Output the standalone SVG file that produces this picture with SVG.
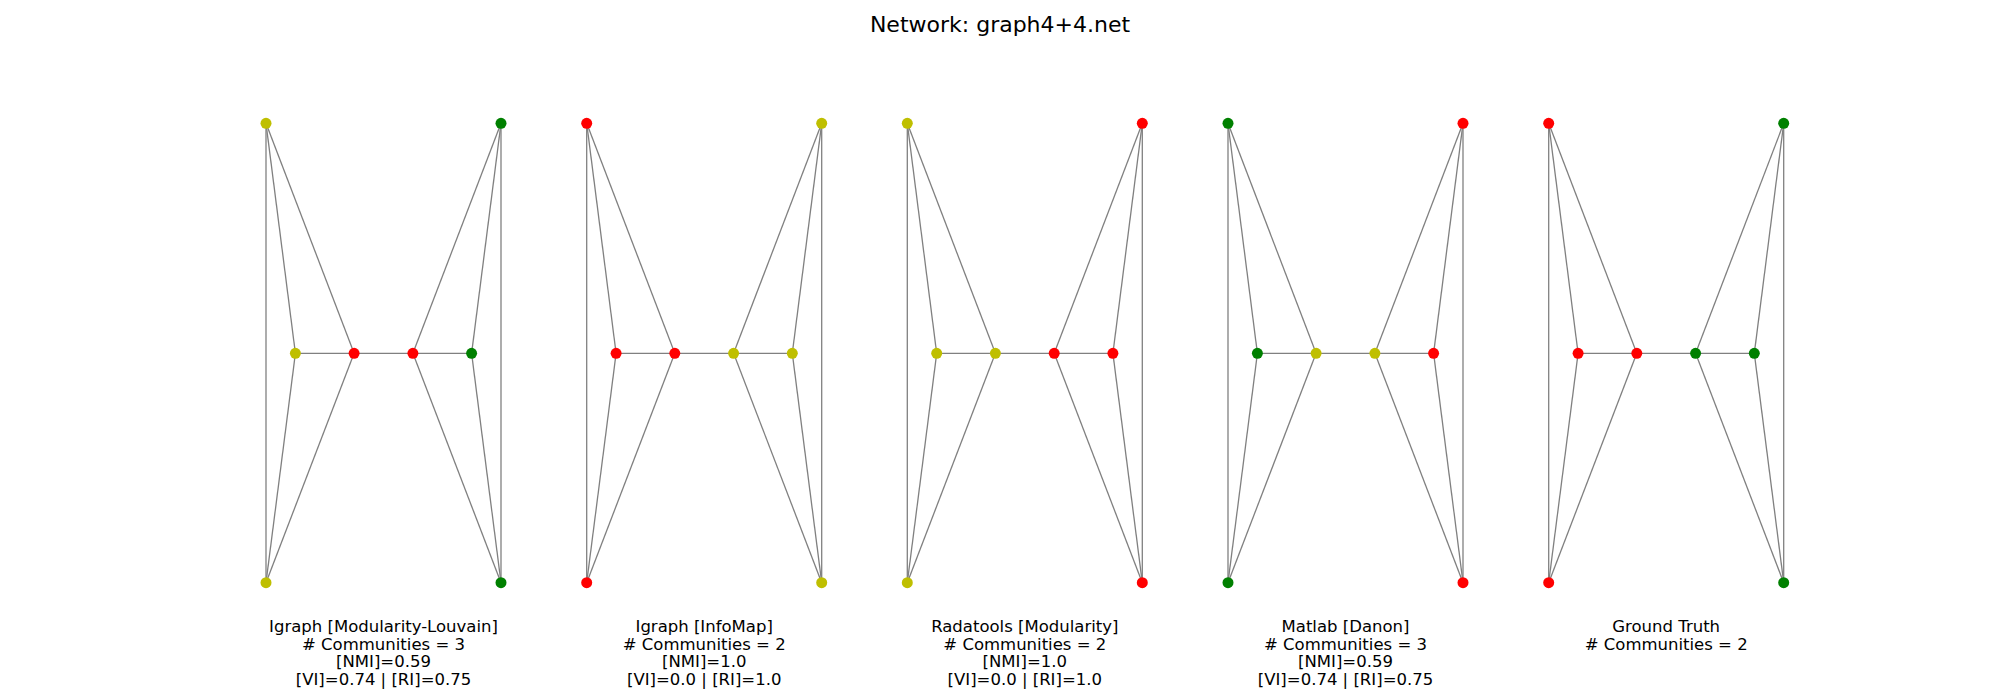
<svg xmlns="http://www.w3.org/2000/svg" width="2000" height="700" viewBox="0 0 2000 700">
<style>
.e{stroke:#808080;stroke-width:1.3;fill:none}
.r{fill:#ff0000}.y{fill:#bfbf00}.g{fill:#008000}
text{font-family:"DejaVu Sans",sans-serif;fill:#000;text-anchor:middle}
.lb{font-size:16.5px}
.tt{font-size:22px}
</style>
<defs>
<g id="edges">
<line x1="0" y1="0" x2="0" y2="459.4"/>
<line x1="0" y1="0" x2="29.4" y2="230"/>
<line x1="0" y1="0" x2="88.1" y2="230"/>
<line x1="0" y1="459.4" x2="29.4" y2="230"/>
<line x1="0" y1="459.4" x2="88.1" y2="230"/>
<line x1="29.4" y1="230" x2="205.6" y2="230"/>
<line x1="235" y1="0" x2="235" y2="459.4"/>
<line x1="235" y1="0" x2="146.9" y2="230"/>
<line x1="235" y1="0" x2="205.6" y2="230"/>
<line x1="235" y1="459.4" x2="146.9" y2="230"/>
<line x1="235" y1="459.4" x2="205.6" y2="230"/>
</g>
</defs>
<text class="tt" x="1000" y="32">Network: graph4+4.net</text>
<g id="connectors" class="e">
<use href="#edges" x="266" y="123.3"/>
<use href="#edges" x="586.7" y="123.3"/>
<use href="#edges" x="907.3" y="123.3"/>
<use href="#edges" x="1228" y="123.3"/>
<use href="#edges" x="1548.7" y="123.3"/>
</g>
<g id="panel1">
<circle class="y" cx="266" cy="123.3" r="5.5"/><circle class="y" cx="266" cy="582.7" r="5.5"/>
<circle class="y" cx="295.4" cy="353.3" r="5.5"/><circle class="r" cx="354.1" cy="353.3" r="5.5"/>
<circle class="r" cx="412.9" cy="353.3" r="5.5"/><circle class="g" cx="471.6" cy="353.3" r="5.5"/>
<circle class="g" cx="501" cy="123.3" r="5.5"/><circle class="g" cx="501" cy="582.7" r="5.5"/>
<text class="lb" x="383.5" y="632">Igraph [Modularity-Louvain]</text>
<text class="lb" x="383.5" y="649.5"># Communities = 3</text>
<text class="lb" x="383.5" y="667">[NMI]=0.59</text>
<text class="lb" x="383.5" y="684.5">[VI]=0.74 | [RI]=0.75</text>
</g>
<g id="panel2">
<circle class="r" cx="586.7" cy="123.3" r="5.5"/><circle class="r" cx="586.7" cy="582.7" r="5.5"/>
<circle class="r" cx="616.1" cy="353.3" r="5.5"/><circle class="r" cx="674.8" cy="353.3" r="5.5"/>
<circle class="y" cx="733.6" cy="353.3" r="5.5"/><circle class="y" cx="792.3" cy="353.3" r="5.5"/>
<circle class="y" cx="821.7" cy="123.3" r="5.5"/><circle class="y" cx="821.7" cy="582.7" r="5.5"/>
<text class="lb" x="704.2" y="632">Igraph [InfoMap]</text>
<text class="lb" x="704.2" y="649.5"># Communities = 2</text>
<text class="lb" x="704.2" y="667">[NMI]=1.0</text>
<text class="lb" x="704.2" y="684.5">[VI]=0.0 | [RI]=1.0</text>
</g>
<g id="panel3">
<circle class="y" cx="907.3" cy="123.3" r="5.5"/><circle class="y" cx="907.3" cy="582.7" r="5.5"/>
<circle class="y" cx="936.7" cy="353.3" r="5.5"/><circle class="y" cx="995.4" cy="353.3" r="5.5"/>
<circle class="r" cx="1054.2" cy="353.3" r="5.5"/><circle class="r" cx="1112.9" cy="353.3" r="5.5"/>
<circle class="r" cx="1142.3" cy="123.3" r="5.5"/><circle class="r" cx="1142.3" cy="582.7" r="5.5"/>
<text class="lb" x="1024.8" y="632">Radatools [Modularity]</text>
<text class="lb" x="1024.8" y="649.5"># Communities = 2</text>
<text class="lb" x="1024.8" y="667">[NMI]=1.0</text>
<text class="lb" x="1024.8" y="684.5">[VI]=0.0 | [RI]=1.0</text>
</g>
<g id="panel4">
<circle class="g" cx="1228" cy="123.3" r="5.5"/><circle class="g" cx="1228" cy="582.7" r="5.5"/>
<circle class="g" cx="1257.4" cy="353.3" r="5.5"/><circle class="y" cx="1316.1" cy="353.3" r="5.5"/>
<circle class="y" cx="1374.9" cy="353.3" r="5.5"/><circle class="r" cx="1433.6" cy="353.3" r="5.5"/>
<circle class="r" cx="1463" cy="123.3" r="5.5"/><circle class="r" cx="1463" cy="582.7" r="5.5"/>
<text class="lb" x="1345.5" y="632">Matlab [Danon]</text>
<text class="lb" x="1345.5" y="649.5"># Communities = 3</text>
<text class="lb" x="1345.5" y="667">[NMI]=0.59</text>
<text class="lb" x="1345.5" y="684.5">[VI]=0.74 | [RI]=0.75</text>
</g>
<g id="panel5">
<circle class="r" cx="1548.7" cy="123.3" r="5.5"/><circle class="r" cx="1548.7" cy="582.7" r="5.5"/>
<circle class="r" cx="1578.1" cy="353.3" r="5.5"/><circle class="r" cx="1636.8" cy="353.3" r="5.5"/>
<circle class="g" cx="1695.6" cy="353.3" r="5.5"/><circle class="g" cx="1754.3" cy="353.3" r="5.5"/>
<circle class="g" cx="1783.7" cy="123.3" r="5.5"/><circle class="g" cx="1783.7" cy="582.7" r="5.5"/>
<text class="lb" x="1666.2" y="632">Ground Truth</text>
<text class="lb" x="1666.2" y="649.5"># Communities = 2</text>
</g>
</svg>
